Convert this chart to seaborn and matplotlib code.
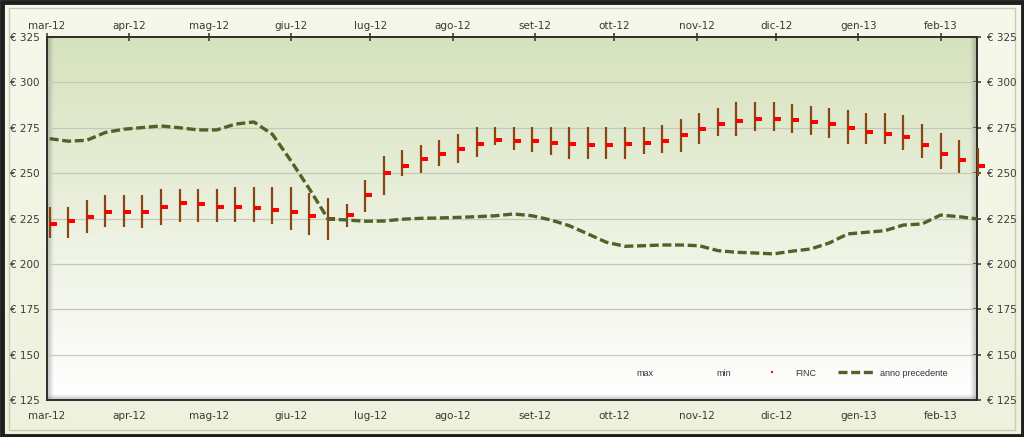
import numpy as np
import pandas as pd
import matplotlib
matplotlib.use("Agg")
import matplotlib.pyplot as plt
from matplotlib.path import Path
from matplotlib.lines import Line2D
from matplotlib.colors import LinearSegmentedColormap, to_rgb
from matplotlib.patches import Rectangle
import matplotlib.ticker as mticker
import seaborn as sns

# ---------------- data ----------------
week_dates = pd.date_range("2012-03-02", periods=51, freq="7D")

max_vals = [231.2, 231.2, 235.2, 238.1, 238.0, 238.0, 241.2, 241.2, 241.2, 241.2, 242.5,
            242.5, 242.5, 242.5, 239.0, 236.1, 233.0, 246.2, 259.2, 263.0, 265.4,
            268.3, 271.8, 275.3, 275.3, 275.3, 275.3, 275.3, 275.3, 275.3, 275.3,
            275.3, 275.3, 276.4, 280.0, 283.1, 286.1, 289.2, 289.2, 289.2, 288.1,
            287.0, 286.1, 285.0, 283.3, 283.3, 282.0, 277.1, 272.1, 268.1, 264.1]
min_vals = [214.1, 214.0, 217.0, 220.2, 220.2, 220.0, 221.6, 223.3, 223.3, 223.3, 223.3,
            223.3, 221.8, 218.7, 216.0, 213.4, 220.2, 228.4, 238.1, 248.2, 250.0,
            254.0, 255.5, 259.0, 265.4, 262.8, 261.4, 260.0, 257.9, 257.9, 257.9,
            257.9, 260.3, 261.0, 261.4, 266.3, 270.5, 270.5, 273.4, 273.4, 272.3,
            271.0, 269.2, 266.3, 266.3, 266.3, 263.0, 258.1, 252.2, 250.2, 248.2]
finc_vals = [222.0, 223.6, 226.0, 228.6, 228.6, 228.6, 231.3, 233.7, 232.8, 231.3, 231.3,
             230.8, 229.8, 228.6, 226.5, 224.5, 227.1, 238.1, 250.2, 253.8, 257.9,
             260.8, 263.4, 266.1, 268.3, 267.7, 267.5, 266.8, 266.1, 265.6, 265.6,
             265.8, 266.7, 267.6, 271.0, 274.3, 276.9, 278.6, 279.8, 279.8, 279.1,
             278.4, 277.1, 274.9, 272.9, 271.8, 269.8, 265.4, 260.8, 257.1, 254.0]
prev_year = [269.0, 267.6, 268.1, 272.4, 274.2, 275.1, 276.0, 275.0, 273.8, 273.8, 277.0,
             278.2, 271.4, 256.8, 241.2, 224.7, 224.2, 223.5, 223.6, 224.6, 225.1,
             225.3, 225.6, 226.0, 226.5, 227.5, 226.5, 224.2, 221.0, 216.5, 211.9,
             209.7, 210.0, 210.4, 210.4, 210.0, 207.3, 206.4, 206.0, 205.5, 207.0,
             208.2, 211.5, 216.5, 217.4, 218.3, 221.4, 222.0, 226.9, 226.0, 224.7]

month_ticks = pd.date_range("2012-03-01", "2013-02-01", freq="MS")
month_labels = ["mar-12", "apr-12", "mag-12", "giu-12", "lug-12", "ago-12",
                "set-12", "ott-12", "nov-12", "dic-12", "gen-13", "feb-13"]
y_ticks = [125, 150, 175, 200, 225, 250, 275, 300, 325]
legend_labels = ["max", "min", "FINC", "anno precedente"]

df = pd.DataFrame({"data": week_dates, "max": max_vals, "min": min_vals,
                   "FINC": finc_vals, "prec": prev_year})

# ---------------- style ----------------
sns.set_style("white")
plt.rcParams["font.family"] = ["DejaVu Sans"]

W, H = 1024, 437
fig = plt.figure(figsize=(W / 100, H / 100), dpi=100)
fig.patch.set_facecolor("#f3f5e4")

# figure frame (background gradient + border)
fa = fig.add_axes([0, 0, 1, 1], zorder=-5)
fa.set_axis_off()
c_top, c_bot = np.array(to_rgb("#f7f8ec")), np.array(to_rgb("#eef1dc"))
t = np.linspace(0, 1, 64)[:, None, None]
grad = c_top * (1 - t) + c_bot * t
fa.imshow(np.repeat(grad, 2, axis=1), extent=[0, W, 0, H], aspect="auto", origin="upper")
fa.add_patch(Rectangle((9, 7), W - 18, H - 15, fill=False, edgecolor="#c9cbb8", lw=1.0))
fa.add_patch(Rectangle((1.5, 1.5), W - 3, H - 3, fill=False, edgecolor="#1e1e1e", lw=3.5))
fa.set_xlim(0, W)
fa.set_ylim(0, H)

x0, x1, y0, y1 = 47, 977, 37, 400
rect = [x0 / W, 1 - y1 / H, (x1 - x0) / W, (y1 - y0) / H]
pw, ph = x1 - x0, y1 - y0

# plot-area gradient background
bg = fig.add_axes(rect, zorder=0)
bg.set_axis_off()
cmap = LinearSegmentedColormap.from_list("g", [(0, "#ffffff"), (0.45, "#edf2e2"), (1, "#d6e2bc")])
bg.imshow(np.linspace(0, 1, 256)[:, None], extent=[0, pw, 0, ph], aspect="auto",
          origin="lower", cmap=cmap)


def shadow(extent, horizontal, reverse):
    n = 32
    a = np.linspace(0.45, 0.0, n)
    if reverse:
        a = a[::-1]
    arr = np.zeros((1, n, 4)) if horizontal else np.zeros((n, 1, 4))
    arr[..., :3] = 0.45
    if horizontal:
        arr[0, :, 3] = a
    else:
        arr[:, 0, 3] = a
    bg.imshow(arr, extent=extent, aspect="auto", origin="lower")


shadow([0, 7, 0, ph], True, False)
shadow([pw - 7, pw, 0, ph], True, True)
shadow([0, pw, 0, 6], False, False)
bg.set_xlim(0, pw)
bg.set_ylim(0, ph)

# main axes
ax = fig.add_axes(rect, zorder=1)
ax.patch.set_alpha(0)

ax.vlines(df["data"], df["min"], df["max"], color="#8a4513", lw=1.6, zorder=3, clip_on=False)

rect_marker = Path([(0, -0.25), (1, -0.25), (1, 0.25), (0, 0.25), (0, -0.25)],
                   [Path.MOVETO, Path.LINETO, Path.LINETO, Path.LINETO, Path.CLOSEPOLY])
sns.scatterplot(data=df, x="data", y="FINC", marker=rect_marker, s=105, color="#ff0000",
                linewidth=0, ax=ax, zorder=4, clip_on=False, legend=False)

sns.lineplot(data=df, x="data", y="prec", color="#4f6228", lw=2.4,
             linestyle=(0, (2.7, 1.1)), ax=ax, zorder=5, legend=False)

xlim = (pd.Timestamp("2012-03-01"), pd.Timestamp("2013-02-14 18:00"))
ax.set_xlim(*xlim)
ax.set_ylim(125, 325)
ax.set_xticks(month_ticks)
ax.set_xticklabels(month_labels)
ax.set_yticks(y_ticks)
euro_fmt = mticker.FuncFormatter(lambda v, p: f"€ {v:.0f}")
ax.yaxis.set_major_formatter(euro_fmt)
ax.set_xlabel("")
ax.set_ylabel("")
ax.yaxis.grid(True, color="#c5c9bb", lw=0.9)
ax.xaxis.grid(False)
ax.set_axisbelow(True)

spine_c = "#2e2e2e"
for s in ax.spines.values():
    s.set_visible(True)
    s.set_color(spine_c)
    s.set_linewidth(1.4)

tick_kw = dict(direction="inout", length=5.5, width=1.1, color=spine_c,
               labelsize=7.5, labelcolor="#3a3a3a")
ax.tick_params(axis="x", pad=5.2, **tick_kw)
ax.tick_params(axis="y", pad=2.4, **tick_kw)

# top and right duplicate axes
secx = ax.secondary_xaxis("top")
secx.set_xticks(month_ticks)
secx.set_xticklabels(month_labels)
secx.tick_params(axis="x", pad=1.8, **tick_kw)
secx.spines["top"].set_color(spine_c)
secx.spines["top"].set_linewidth(1.4)

secy = ax.secondary_yaxis("right")
secy.set_yticks(y_ticks)
secy.yaxis.set_major_formatter(euro_fmt)
secy.tick_params(axis="y", pad=4.6, **tick_kw)
secy.spines["right"].set_color(spine_c)
secy.spines["right"].set_linewidth(1.4)

# legend
handles = [Line2D([], [], color="none"),
           Line2D([], [], color="none"),
           Line2D([], [], color="#ff0000", marker="s", markersize=2.0, mew=0, linestyle="none"),
           Line2D([], [], color="#4f6228", lw=2.4, linestyle=(0, (2.7, 1.1)))]
leg = ax.legend(handles, legend_labels, loc="center left",
                bbox_to_anchor=((594 - x0) / pw, (y1 - 373) / ph), ncol=4, frameon=False,
                prop={"family": "Liberation Sans", "size": 6.5},
                handlelength=4.2, handletextpad=0.45, columnspacing=2.4,
                borderpad=0, borderaxespad=0)
for txt in leg.get_texts():
    txt.set_color("#333333")

fig.savefig("out.png", dpi=100, facecolor=fig.get_facecolor())
